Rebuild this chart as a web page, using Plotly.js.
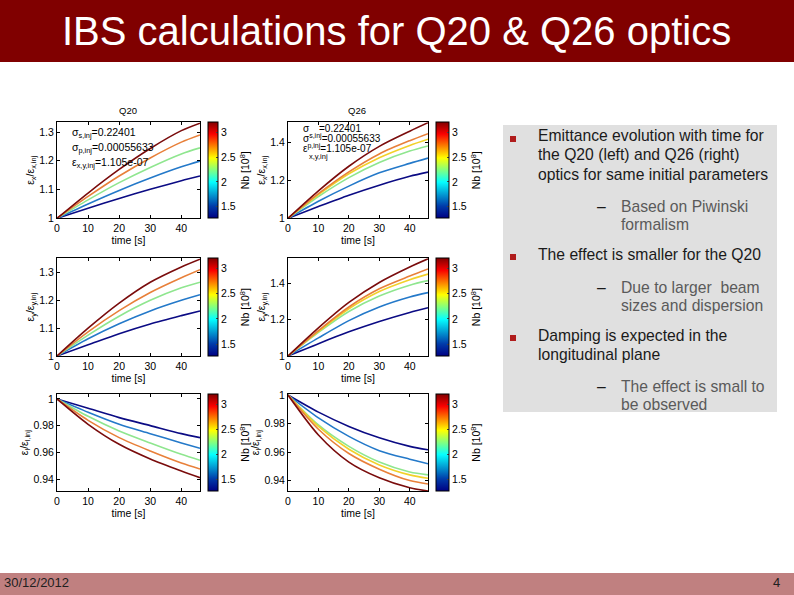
<!DOCTYPE html>
<html><head><meta charset="utf-8">
<script src="https://cdn.plot.ly/plotly-3.0.1.min.js"></script>
<style>html,body{margin:0;padding:0;background:#fff}#chart{width:794px;height:595px}</style>
</head><body><div id="chart"></div>
<script>
// ---------------- data ----------------
const time = [0, 10, 20, 30, 40, 46];
const timeTicks = [0, 10, 20, 30, 40];
const nbTicks = [1.5, 2, 2.5, 3];
const nbRange = [1.265, 3.2];

// Q20 optics, 5 bunch intensities (low -> high)
const q20EmitX = [
  [1, 1.035, 1.069, 1.101, 1.131, 1.147],
  [1, 1.050, 1.097, 1.140, 1.179, 1.199],
  [1, 1.064, 1.124, 1.177, 1.224, 1.245],
  [1, 1.076, 1.147, 1.210, 1.265, 1.290],
  [1, 1.088, 1.170, 1.243, 1.305, 1.331]
];
const q20EmitY = [
  [1, 1.040, 1.080, 1.115, 1.145, 1.162],
  [1, 1.062, 1.116, 1.162, 1.200, 1.220],
  [1, 1.075, 1.143, 1.200, 1.245, 1.265],
  [1, 1.087, 1.163, 1.228, 1.281, 1.310],
  [1, 1.100, 1.190, 1.265, 1.320, 1.348]
];
const q20EmitL = [
  [1, 0.993, 0.986, 0.980, 0.974, 0.971],
  [1, 0.990, 0.981, 0.974, 0.967, 0.963],
  [1, 0.987, 0.976, 0.967, 0.9585, 0.954],
  [1, 0.984, 0.971, 0.961, 0.952, 0.9475],
  [1, 0.981, 0.966, 0.955, 0.946, 0.941]
];
// Q26 optics, 6 bunch intensities (low -> high)
const q26EmitX = [
  [1, 1.062, 1.122, 1.175, 1.222, 1.244],
  [1, 1.090, 1.170, 1.240, 1.290, 1.318],
  [1, 1.115, 1.215, 1.295, 1.355, 1.382],
  [1, 1.125, 1.235, 1.320, 1.385, 1.418],
  [1, 1.130, 1.245, 1.340, 1.410, 1.447],
  [1, 1.145, 1.275, 1.380, 1.460, 1.505]
];
const q26EmitY = [
  [1, 1.068, 1.133, 1.190, 1.240, 1.266],
  [1, 1.100, 1.195, 1.270, 1.325, 1.349],
  [1, 1.130, 1.245, 1.330, 1.390, 1.415],
  [1, 1.135, 1.260, 1.355, 1.420, 1.451],
  [1, 1.140, 1.270, 1.370, 1.440, 1.479],
  [1, 1.155, 1.295, 1.405, 1.490, 1.535]
];
const q26EmitL = [
  [1, 0.988, 0.978, 0.970, 0.964, 0.9616],
  [1, 0.984, 0.971, 0.961, 0.955, 0.9518],
  [1, 0.979, 0.964, 0.953, 0.946, 0.944],
  [1, 0.978, 0.962, 0.951, 0.944, 0.9416],
  [1, 0.976, 0.959, 0.948, 0.940, 0.9376],
  [1, 0.972, 0.953, 0.942, 0.935, 0.9327]
];

const q20Colors = ['#0b0b84', '#2479c9', '#8fe68f', '#e8803a', '#7a0c0c'];
const q26Colors = ['#0b0b84', '#2479c9', '#8fe68f', '#f2d12a', '#e8803a', '#7a0c0c'];

// ---------------- layout helpers ----------------
const W = 794, H = 595;
const px = x => x / W;
const py = y => 1 - y / H;
const FONT = 'Liberation Sans, Arial, Helvetica, sans-serif';

const cols = [{l: 57, r: 200, cbx: 208, cbw: 10}, {l: 288, r: 428, cbx: 436, cbw: 13}];
const rows = [{t: 122.3, b: 218.3}, {t: 258.3, b: 356}, {t: 394.3, b: 491}];

const panels = [
  {data: q20EmitX, colors: q20Colors, c: 0, r: 0, yr: [1, 1.334], yt: [1, 1.1, 1.2, 1.3], yl: 'ε<sub>x</sub>/ε<sub>x,inj</sub>'},
  {data: q26EmitX, colors: q26Colors, c: 1, r: 0, yr: [1, 1.507], yt: [1, 1.2, 1.4], yl: 'ε<sub>x</sub>/ε<sub>x,inj</sub>'},
  {data: q20EmitY, colors: q20Colors, c: 0, r: 1, yr: [1, 1.351], yt: [1, 1.1, 1.2, 1.3], yl: 'ε<sub>y</sub>/ε<sub>y,inj</sub>'},
  {data: q26EmitY, colors: q26Colors, c: 1, r: 1, yr: [1, 1.538], yt: [1, 1.2, 1.4], yl: 'ε<sub>y</sub>/ε<sub>y,inj</sub>'},
  {data: q20EmitL, colors: q20Colors, c: 0, r: 2, yr: [0.931, 1.0035], yt: [0.94, 0.96, 0.98, 1], yl: 'ε<sub>l</sub>/ε<sub>l,inj</sub>'},
  {data: q26EmitL, colors: q26Colors, c: 1, r: 2, yr: [0.9327, 1.0005], yt: [0.94, 0.96, 0.98, 1], yl: 'ε<sub>l</sub>/ε<sub>l,inj</sub>'}
];

const traces = [];
const layout = {
  width: W, height: H, margin: {l: 0, r: 0, t: 0, b: 0},
  paper_bgcolor: '#fff', plot_bgcolor: '#fff', showlegend: false,
  font: {family: FONT, size: 10, color: '#000'},
  shapes: [], annotations: []
};

panels.forEach((p, i) => {
  const n = i + 1;
  const xk = n === 1 ? 'x' : 'x' + n, yk = n === 1 ? 'y' : 'y' + n;
  const col = cols[p.c], row = rows[p.r];
  layout[n === 1 ? 'xaxis' : 'xaxis' + n] = {
    domain: [px(col.l), px(col.r)], anchor: yk, range: [0, 46],
    tickvals: timeTicks, ticks: 'inside', ticklen: 3, tickcolor: '#000',
    showline: true, linecolor: '#000', linewidth: 1, mirror: 'allticks',
    showgrid: false, zeroline: false, tickfont: {size: 10.5},
    title: {text: 'time [s]', font: {size: 10.5}, standoff: 0}
  };
  layout[n === 1 ? 'yaxis' : 'yaxis' + n] = {
    domain: [py(row.b), py(row.t)], anchor: xk, range: p.yr,
    tickvals: p.yt, ticks: 'inside', ticklen: 3, tickcolor: '#000',
    showline: true, linecolor: '#000', linewidth: 1, mirror: 'allticks',
    showgrid: false, zeroline: false, tickfont: {size: 10.5},
    title: {text: p.yl, font: {size: 10.5}, standoff: 2}
  };
  p.data.forEach((s, k) => {
    traces.push({type: 'scatter', mode: 'lines', x: time, y: s, xaxis: xk, yaxis: yk,
      line: {color: p.colors[k], width: 1.6, shape: 'spline', smoothing: 0.8}, hoverinfo: 'skip'});
  });
  // colorbar carrier
  traces.push({type: 'scatter', mode: 'markers', x: [null, null], y: [null, null], xaxis: xk, yaxis: yk,
    hoverinfo: 'skip',
    marker: {color: nbRange, cmin: nbRange[0], cmax: nbRange[1], colorscale: 'Jet', showscale: true,
      colorbar: {x: px(col.cbx), xanchor: 'left', xpad: 0, ypad: 0,
        y: py((row.t + row.b) / 2), yanchor: 'middle', len: (row.b - row.t) / H, lenmode: 'fraction',
        thickness: col.cbw, thicknessmode: 'pixels', outlinewidth: 1, outlinecolor: '#000',
        tickvals: nbTicks, ticktext: ['1.5', '2', '2.5', '3'], ticks: 'inside', ticklen: 2,
        tickfont: {size: 10.5}, title: {text: 'Nb [10<sup>8</sup>]', side: 'right', font: {size: 10.5}}}}
  });
});

// generic paper-anchored text
const ann = (x, y, t, font, xa) => ({xref: 'paper', yref: 'paper', x: px(x), y: py(y),
  xanchor: xa || 'left', yanchor: 'middle', text: t, showarrow: false, font: font});

// subplot titles
layout.annotations.push(
  ann(128, 110, 'Q20', {size: 9.5}, 'center'),
  ann(357, 110, 'Q26', {size: 9.5}, 'center')
);
// parameter boxes
layout.annotations.push(
  ann(70, 133, 'σ<sub>s,inj</sub>=0.22401', {size: 10.5}),
  ann(70, 148, 'σ<sub>p,inj</sub>=0.00055633', {size: 10.5}),
  ann(70, 163, 'ε<sub>x,y,inj</sub>=1.105e-07', {size: 10.5}),
  ann(301, 128, 'σ', {size: 10}),
  ann(317, 128, '=0.22401', {size: 10}),
  ann(301, 138, 'σ<sup>s,inj</sup>=0.00055633', {size: 10}),
  ann(301, 148, 'ε<sup>p,inj</sup>=1.105e-07', {size: 10}),
  ann(307, 157, 'x,y,inj', {size: 7.5})
);

// slide header / footer
layout.shapes.push(
  {type: 'rect', xref: 'paper', yref: 'paper', x0: 0, x1: 1, y0: py(62), y1: 1, fillcolor: '#800000', line: {width: 0}, layer: 'below'},
  {type: 'rect', xref: 'paper', yref: 'paper', x0: 0, x1: 1, y0: 0, y1: py(573), fillcolor: '#c08080', line: {width: 0}, layer: 'below'},
  {type: 'rect', xref: 'paper', yref: 'paper', x0: px(503), x1: px(777), y0: py(412), y1: py(125), fillcolor: '#e0e0e0', line: {width: 0}, layer: 'below'}
);
layout.annotations.push(
  ann(396, 31, 'IBS calculations for Q20 &amp; Q26 optics', {size: 40, color: '#fff'}, 'center'),
  ann(2, 582, '30/12/2012', {size: 13, color: '#202020'}),
  ann(782, 582, '4', {size: 13, color: '#202020'}, 'right')
);

// bullet text
const bulletLines = [
  [136, 'Emittance evolution with time for', 0], [155, 'the Q20 (left) and Q26 (right)', 0], [174, 'optics for same initial parameters', 0],
  [206, 'Based on Piwinski', 1], [224, 'formalism', 1],
  [254, 'The effect is smaller for the Q20', 0],
  [287, 'Due to larger  beam', 1], [305, 'sizes and dispersion', 1],
  [335, 'Damping is expected in the', 0], [354, 'longitudinal plane', 0],
  [386, 'The effect is small to', 1], [404, 'be observed', 1]
];
bulletLines.forEach(([y, t, lvl]) => {
  layout.annotations.push(ann(lvl ? 619 : 536, y, t, {size: 15.7, color: lvl ? '#5a5a5a' : '#1a1a1a'}));
});
[206, 287, 386].forEach(y => layout.annotations.push(ann(595, y, '–', {size: 15.7, color: '#1a1a1a'})));
[139, 257, 338].forEach(y => layout.shapes.push({type: 'rect', xref: 'paper', yref: 'paper',
  x0: px(510), x1: px(516), y0: py(y + 3), y1: py(y - 3), fillcolor: '#b01c1c', line: {width: 0}}));

Plotly.newPlot('chart', traces, layout, {staticPlot: true, displayModeBar: false});
</script></body></html>
